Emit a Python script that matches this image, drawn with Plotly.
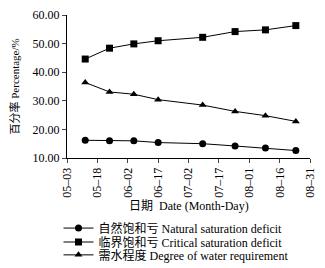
import plotly.graph_objects as go

dates = ["2020-05-12", "2020-05-24", "2020-06-05", "2020-06-17",
         "2020-07-09", "2020-07-25", "2020-08-09", "2020-08-24"]
natural = [16.2, 16.0, 16.0, 15.4, 15.0, 14.2, 13.5, 12.6]
critical = [44.6, 48.4, 49.9, 51.0, 52.2, 54.2, 54.8, 56.3]
degree = [36.4, 33.1, 32.3, 30.4, 28.5, 26.3, 24.8, 22.8]
names = ["自然饱和亏 Natural saturation deficit",
         "临界饱和亏 Critical saturation deficit",
         "需水程度 Degree of water requirement"]
symbols = ["circle", "square", "triangle-up"]
legend_ids = ["legend", "legend2", "legend3"]
legend_y = [0.149, 0.097, 0.049]
x_title = "日期  Date (Month-Day)"
y_title = "百分率 Percentage/%"

font = "Liberation Serif, Noto Sans CJK SC, serif"
fig = go.Figure()
for ys, nm, sym, lg in zip([natural, critical, degree], names, symbols, legend_ids):
    fig.add_trace(go.Scatter(x=dates, y=ys, name=nm, mode="lines+markers",
                             legend=lg,
                             line=dict(color="black", width=1),
                             marker=dict(symbol=sym, size=7, color="black")))

legend_style = dict(x=0.18, xref="container", yref="container",
                    xanchor="left", yanchor="middle",
                    font=dict(size=12), itemwidth=30,
                    bgcolor="rgba(0,0,0,0)")
fig.update_layout(
    width=325, height=268,
    margin=dict(l=67, r=15, t=15, b=110, autoexpand=False),
    paper_bgcolor="white", plot_bgcolor="white",
    font=dict(family=font, size=12, color="black"),
    showlegend=True,
    legend=dict(y=legend_y[0], **legend_style),
    legend2=dict(y=legend_y[1], **legend_style),
    legend3=dict(y=legend_y[2], **legend_style),
    annotations=[
        dict(text=x_title, xref="paper", yref="paper", x=0.5, y=-0.336,
             xanchor="center", yanchor="middle", showarrow=False,
             font=dict(size=12)),
        dict(text=y_title, xref="paper", yref="paper", x=-0.218, y=0.5,
             xanchor="center", yanchor="middle", textangle=-90, showarrow=False,
             font=dict(size=11)),
    ],
)
fig.update_xaxes(type="date", range=["2020-05-03", "2020-08-31"],
                 tick0="2020-05-03", dtick=15 * 86400000, tickformat="%m–%d",
                 tickangle=-90, ticks="outside", ticklen=4, showline=True,
                 linecolor="black", linewidth=1, showgrid=False, zeroline=False,
                 automargin=False, tickfont=dict(size=12))
fig.update_yaxes(range=[10, 60], dtick=10, tickformat=".2f", ticks="outside",
                 ticklen=4, showline=True, linecolor="black", linewidth=1,
                 showgrid=False, zeroline=False, automargin=False,
                 tickfont=dict(size=12))
fig.write_html("out.html", config={"displayModeBar": False},
               post_script="document.body.style.margin='0';document.body.style.overflow='hidden';")
